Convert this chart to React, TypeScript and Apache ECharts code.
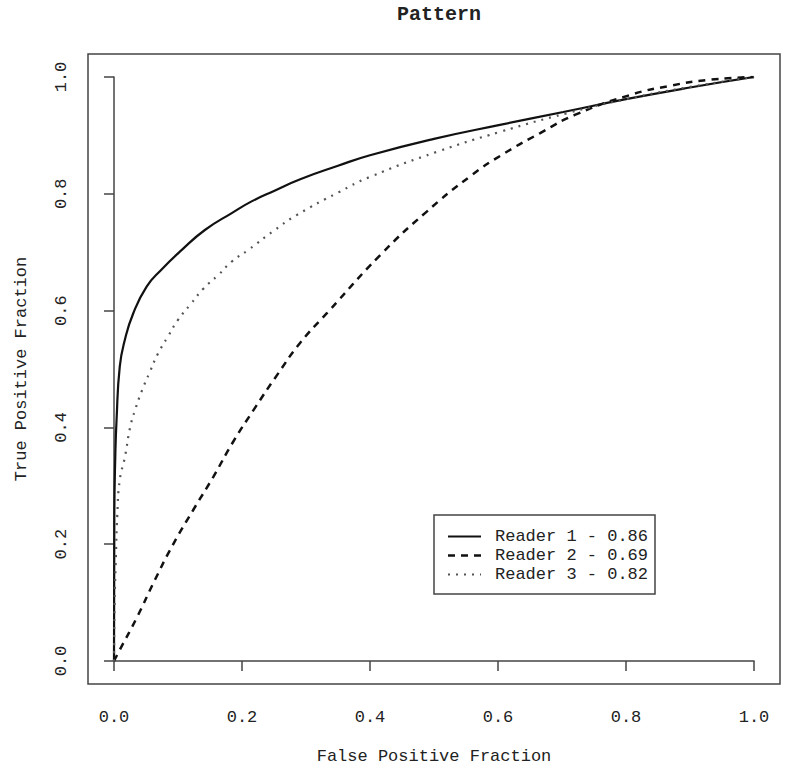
import React, { useEffect, useRef } from "react";
import * as echarts from "echarts";

const title = "Pattern";
const xAxisName = "False Positive Fraction";
const yAxisName = "True Positive Fraction";
const seriesNames = ["Reader 1 - 0.86", "Reader 2 - 0.69", "Reader 3 - 0.82"];

const reader1Fpf = [0, 0.0005, 0.002, 0.004, 0.009, 0.017, 0.03, 0.051, 0.074, 0.106, 0.142, 0.184, 0.215, 0.25, 0.291, 0.35, 0.4, 0.5, 0.603, 0.702, 0.8, 0.9, 1.0];
const reader1Tpf = [0, 0.25, 0.35, 0.413, 0.504, 0.55, 0.595, 0.641, 0.67, 0.704, 0.738, 0.767, 0.787, 0.805, 0.825, 0.848, 0.866, 0.894, 0.918, 0.94, 0.962, 0.982, 1.0];

const reader2Fpf = [0, 0.009, 0.036, 0.064, 0.092, 0.124, 0.155, 0.186, 0.22, 0.255, 0.291, 0.333, 0.416, 0.486, 0.559, 0.611, 0.666, 0.72, 0.806, 0.869, 0.928, 1.0];
const reader2Tpf = [0, 0.019, 0.075, 0.139, 0.199, 0.259, 0.315, 0.375, 0.433, 0.49, 0.545, 0.596, 0.695, 0.767, 0.832, 0.87, 0.904, 0.935, 0.969, 0.985, 0.995, 1.0];

const reader3Fpf = [0, 0.001, 0.003, 0.005, 0.009, 0.017, 0.025, 0.033, 0.044, 0.056, 0.069, 0.084, 0.1, 0.119, 0.14, 0.163, 0.184, 0.21, 0.25, 0.286, 0.35, 0.4, 0.505, 0.603, 0.708, 0.8, 0.9, 1.0];
const reader3Tpf = [0, 0.1, 0.18, 0.247, 0.31, 0.349, 0.399, 0.43, 0.464, 0.495, 0.527, 0.555, 0.584, 0.61, 0.638, 0.661, 0.684, 0.704, 0.737, 0.764, 0.802, 0.829, 0.872, 0.906, 0.938, 0.962, 0.983, 1.0];

const xTicks = [0, 0.2, 0.4, 0.6, 0.8, 1.0];

const FONT = "'Liberation Mono', 'DejaVu Sans Mono', monospace";
const INK = "#222";
const FRAME = "#444";

const lineStyles = [
  { color: "#111", width: 2.2, dash: null as number[] | null },
  { color: "#111", width: 2.5, dash: [7, 6] },
  { color: "#555", width: 2.2, dash: [2, 6] },
];

const zip = (xs: number[], ys: number[]) => xs.map((x, i) => [x, ys[i]]);

export default function App() {
  const ref = useRef<HTMLDivElement>(null);
  useEffect(() => {
    if (!ref.current) return;
    const chart = echarts.init(ref.current, undefined, { renderer: "svg" });
    const axisCommon = {
      type: "value" as const,
      min: 0,
      max: 1,
      interval: 0.2,
      splitLine: { show: false },
      axisLine: { show: true, lineStyle: { color: FRAME, width: 1.5 } },
      axisTick: { show: true, length: 10, lineStyle: { color: FRAME, width: 1.5 } },
      nameLocation: "middle" as const,
      nameTextStyle: { fontFamily: FONT, fontSize: 17, color: INK },
    };

    const legendX = 434;
    const legendY = 515;
    const rowYs = [536.5, 555.5, 574.5];
    const legendGraphics: any[] = [
      {
        type: "rect",
        shape: { x: legendX, y: legendY, width: 221, height: 79 },
        style: { fill: "#fff", stroke: FRAME, lineWidth: 1.5 },
        silent: true,
        z: 10,
      },
    ];
    seriesNames.forEach((name, i) => {
      const ls = lineStyles[i];
      legendGraphics.push({
        type: "line",
        shape: { x1: 448, y1: rowYs[i], x2: 481, y2: rowYs[i] },
        style: { stroke: ls.color, lineWidth: ls.width, lineDash: ls.dash || undefined },
        silent: true,
        z: 11,
      });
      legendGraphics.push({
        type: "text",
        x: 495,
        y: rowYs[i],
        style: {
          text: name,
          fontFamily: FONT,
          fontSize: 17,
          fill: INK,
          verticalAlign: "middle",
          align: "left",
        },
        silent: true,
        z: 11,
      });
    });

    chart.setOption({
      animation: false,
      backgroundColor: "#fff",
      title: {
        text: title,
        left: 434,
        textAlign: "center",
        top: -1,
        textStyle: { fontFamily: FONT, fontSize: 20, fontWeight: "bold", color: INK },
      },
      grid: { left: 114, right: 46, top: 77, bottom: 116, containLabel: false },
      xAxis: {
        ...axisCommon,
        offset: 23,
        name: xAxisName,
        nameGap: 64,
        axisLabel: {
          fontFamily: FONT,
          fontSize: 17,
          color: INK,
          margin: 25,
          formatter: (v: number) => (xTicks.includes(Math.round(v * 10) / 10) ? v.toFixed(1) : ""),
        },
      },
      yAxis: {
        ...axisCommon,
        offset: 26,
        name: yAxisName,
        nameGap: 58,
        nameRotate: 90,
        axisLabel: {
          fontFamily: FONT,
          fontSize: 17,
          color: INK,
          margin: 18,
          rotate: 90,
          formatter: (v: number) => v.toFixed(1),
        },
      },
      graphic: [
        {
          type: "rect",
          shape: { x: 88, y: 54, width: 692, height: 630 },
          style: { fill: "none", stroke: FRAME, lineWidth: 1.5 },
          silent: true,
        },
        ...legendGraphics,
      ],
      series: seriesNames.map((name, i) => {
        const data = [zip(reader1Fpf, reader1Tpf), zip(reader2Fpf, reader2Tpf), zip(reader3Fpf, reader3Tpf)][i];
        const ls = lineStyles[i];
        return {
          name,
          type: "line",
          data,
          symbol: "none",
          smooth: 0.5,
          lineStyle: { color: ls.color, width: ls.width, type: ls.dash || "solid" },
          itemStyle: { color: ls.color },
          z: 2,
        };
      }),
    });
    return () => chart.dispose();
  }, []);
  return (
    <div
      ref={ref}
      style={{ position: "fixed", left: 0, top: 0, width: 800, height: 777, background: "#fff" }}
    />
  );
}
